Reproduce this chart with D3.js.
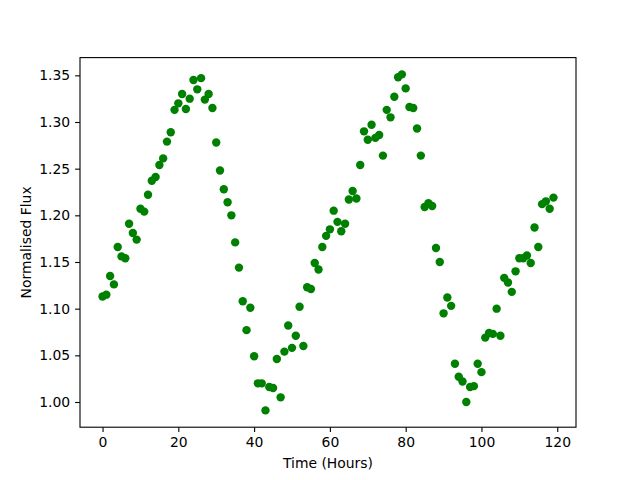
<!DOCTYPE html>
<html><head><meta charset="utf-8">
<script src="https://cdn.jsdelivr.net/npm/d3@7"></script>
<style>body{margin:0;background:#fff}svg{display:block}text{font-family:"DejaVu Sans",sans-serif}</style>
</head><body>
<svg id="c" width="640" height="480"></svg>
<script>
const hours = d3.range(0, 120);
const flux = [
1.113,1.115,1.135,1.126,1.166,1.156,1.154,1.191,1.181,1.174,
1.207,1.204,1.222,1.237,1.241,1.254,1.261,1.279,1.289,1.313,
1.320,1.330,1.314,1.325,1.345,1.335,1.347,1.324,1.330,1.315,
1.278,1.248,1.228,1.214,1.200,1.171,1.144,1.108,1.077,1.101,
1.049,1.020,1.020,0.991,1.016,1.015,1.046,1.005,1.054,1.082,
1.058,1.071,1.102,1.060,1.123,1.121,1.149,1.142,1.166,1.178,
1.185,1.205,1.193,1.183,1.191,1.217,1.226,1.218,1.254,1.290,
1.281,1.297,1.283,1.286,1.264,1.313,1.305,1.327,1.348,1.351,
1.336,1.316,1.315,1.293,1.264,1.209,1.213,1.210,1.165,1.150,
1.095,1.112,1.103,1.041,1.027,1.022,1.000,1.016,1.017,1.041,
1.032,1.069,1.074,1.073,1.100,1.071,1.133,1.128,1.118,1.140,
1.154,1.154,1.157,1.149,1.187,1.166,1.212,1.215,1.207,1.219];
const xTicks = [0,20,40,60,80,100,120];
const yTicks = [1.00,1.05,1.10,1.15,1.20,1.25,1.30,1.35];
const xLabel = "Time (Hours)", yLabel = "Normalised Flux";

const L=80,R=576,T=57.6,B=427.2;
const svg=d3.select("#c");
const [x0,x1]=d3.extent(hours), [y0,y1]=d3.extent(flux);
const px=(x1-x0)*0.05, py=(y1-y0)*0.05;
const x=d3.scaleLinear().domain([x0-px,x1+px]).range([L,R]);
const y=d3.scaleLinear().domain([y0-py,y1+py]).range([B,T]);

svg.append("g").selectAll("circle").data(hours).join("circle")
  .attr("cx",d=>x(d)).attr("cy",(d,i)=>y(flux[i])).attr("r",4.2).attr("fill","#008000");

const fs="13.9px";
const xa=svg.append("g").attr("transform",`translate(0,${B})`)
  .call(d3.axisBottom(x).tickValues(xTicks).tickFormat(d3.format("d")).tickSize(4.9).tickPadding(4.9));
const ya=svg.append("g").attr("transform",`translate(${L},0)`)
  .call(d3.axisLeft(y).tickValues(yTicks).tickFormat(d3.format(".2f")).tickSize(4.9).tickPadding(4.9));
[xa,ya].forEach(a=>{a.select(".domain").remove();a.selectAll("line").attr("stroke","#000").attr("stroke-width",1.1);
  a.selectAll("text").attr("font-size",fs).attr("font-family","DejaVu Sans").attr("fill","#000");});
svg.append("rect").attr("x",L).attr("y",T).attr("width",R-L).attr("height",B-T)
  .attr("fill","none").attr("stroke","#000").attr("stroke-width",1.1);
svg.append("text").attr("x",(L+R)/2).attr("y",468).attr("text-anchor","middle").attr("font-size",fs).text(xLabel);
svg.append("text").attr("transform",`translate(31,${(T+B)/2}) rotate(-90)`).attr("text-anchor","middle").attr("font-size",fs).text(yLabel);
</script>
</body></html>
